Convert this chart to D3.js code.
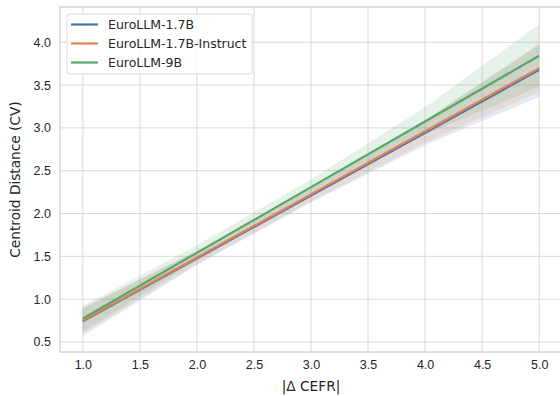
<!DOCTYPE html>
<html>
<head>
<meta charset="utf-8">
<script src="https://cdn.jsdelivr.net/npm/d3@7"></script>
<style>
  body { margin: 0; background: #fff; }
  svg { display: block; font-family: "DejaVu Sans", sans-serif; }
  .grid line { stroke: #d9d9d9; stroke-width: 1; }
  .tick text { fill: #262626; font-size: 12.5px; }
</style>
</head>
<body>
<script>
//chart values
var models = ["EuroLLM-1.7B", "EuroLLM-1.7B-Instruct", "EuroLLM-9B"];
var colors = ["#4c72b0", "#dd8452", "#55a868"];
var xs = [1, 2, 3, 4, 5];
//fitted lines
var fitBase = [0.742, 1.476, 2.210, 2.944, 3.678];
var fitInstruct = [0.750, 1.487, 2.224, 2.961, 3.698];
var fit9B = [0.774, 1.541, 2.308, 3.075, 3.842];
//confidence band lows / highs
var lowBase = [0.57, 1.40, 2.13, 2.80, 3.36];
var highBase = [0.90, 1.56, 2.30, 3.09, 3.98];
var lowInstruct = [0.60, 1.41, 2.14, 2.83, 3.42];
var highInstruct = [0.89, 1.57, 2.31, 3.09, 3.97];
var low9B = [0.62, 1.45, 2.22, 2.92, 3.48];
var high9B = [0.92, 1.63, 2.40, 3.24, 4.21];
var xTicks = [1.0, 1.5, 2.0, 2.5, 3.0, 3.5, 4.0, 4.5, 5.0];
var yTicks = [0.5, 1.0, 1.5, 2.0, 2.5, 3.0, 3.5, 4.0];

var fits = [fitBase, fitInstruct, fit9B];
var lows = [lowBase, lowInstruct, low9B];
var highs = [highBase, highInstruct, high9B];

var width = 560, height = 396;
var pLeft = 60, pRight = 562, pTop = 7, pBottom = 352;

var svg = d3.select("body").append("svg")
  .attr("width", width)
  .attr("height", height);

var x = d3.scaleLinear().domain([0.8, 5.2]).range([pLeft, pRight]);
var y = d3.scaleLinear().domain([0.383, 4.412]).range([pBottom, pTop]);

//gridlines
var grid = svg.append("g").attr("class", "grid");
grid.selectAll(".gx").data(xTicks).enter().append("line")
  .attr("x1", function(d) { return x(d); })
  .attr("x2", function(d) { return x(d); })
  .attr("y1", pTop).attr("y2", pBottom);
grid.selectAll(".gy").data(yTicks).enter().append("line")
  .attr("x1", pLeft).attr("x2", pRight)
  .attr("y1", function(d) { return y(d); })
  .attr("y2", function(d) { return y(d); });

//bands then lines
var area = d3.area()
  .x(function(d, i) { return x(xs[i]); })
  .y0(function(d) { return y(d[0]); })
  .y1(function(d) { return y(d[1]); });

var line = d3.line()
  .x(function(d, i) { return x(xs[i]); })
  .y(function(d) { return y(d); });

models.forEach(function(m, k) {
  var pts = lows[k].map(function(v, i) { return [v, highs[k][i]]; });
  svg.append("path")
    .attr("d", area(pts))
    .attr("fill", colors[k])
    .attr("fill-opacity", 0.15);
});
models.forEach(function(m, k) {
  svg.append("path")
    .attr("d", line(fits[k]))
    .attr("fill", "none")
    .attr("stroke", colors[k])
    .attr("stroke-width", 2.2);
});

//frame
svg.append("rect")
  .attr("x", pLeft).attr("y", pTop)
  .attr("width", pRight - pLeft).attr("height", pBottom - pTop)
  .attr("fill", "none")
  .attr("stroke", "#cccccc")
  .attr("stroke-width", 1.25);

//axes
var xAxis = svg.append("g")
  .attr("transform", "translate(0," + pBottom + ")")
  .call(d3.axisBottom(x).tickValues(xTicks).tickFormat(d3.format(".1f")).tickSize(0).tickPadding(8));
xAxis.select(".domain").remove();

var yAxis = svg.append("g")
  .attr("transform", "translate(" + pLeft + ",0)")
  .call(d3.axisLeft(y).tickValues(yTicks).tickFormat(d3.format(".1f")).tickSize(0).tickPadding(9));
yAxis.select(".domain").remove();

svg.append("text")
  .attr("x", (x(1) + x(5)) / 2)
  .attr("y", 391)
  .attr("text-anchor", "middle")
  .attr("fill", "#262626")
  .style("font-size", "13.7px")
  .text("|Δ CEFR|");

svg.append("text")
  .attr("transform", "translate(20," + (pBottom + pTop) / 2 + ") rotate(-90)")
  .attr("text-anchor", "middle")
  .attr("fill", "#262626")
  .style("font-size", "13.7px")
  .text("Centroid Distance (CV)");

//legend
var legend = svg.append("g");
legend.append("rect")
  .attr("x", 67).attr("y", 14)
  .attr("width", 185).attr("height", 60)
  .attr("rx", 3)
  .attr("fill", "#fff")
  .attr("fill-opacity", 0.8)
  .attr("stroke", "#dddddd");
models.forEach(function(m, k) {
  var ly = 24.5 + k * 19;
  legend.append("line")
    .attr("x1", 71).attr("x2", 98)
    .attr("y1", ly).attr("y2", ly)
    .attr("stroke", colors[k])
    .attr("stroke-width", 2.2);
  legend.append("text")
    .attr("x", 108).attr("y", ly + 4.5)
    .attr("fill", "#262626")
    .style("font-size", "12.5px")
    .text(m);
});
</script>
</body>
</html>
